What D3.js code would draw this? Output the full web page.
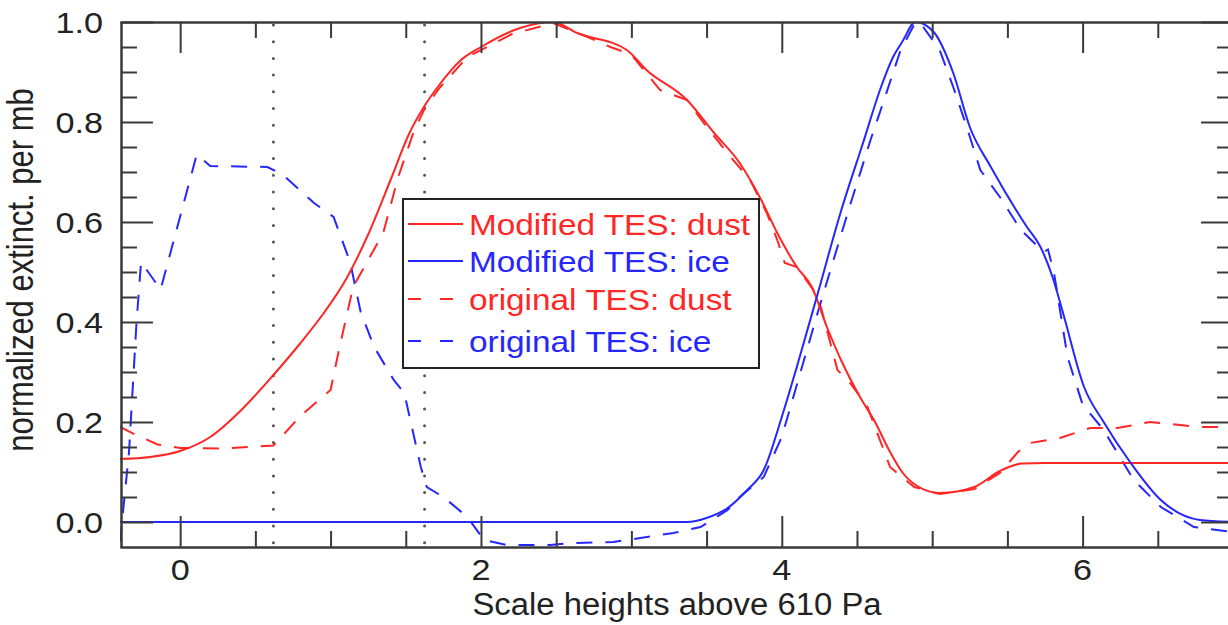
<!DOCTYPE html>
<html>
<head>
<meta charset="utf-8">
<script src="https://cdn.jsdelivr.net/npm/d3@7"></script>
<style>
  html, body { margin: 0; padding: 0; background: #fff; }
  svg { display: block; }
  text { font-family: "Liberation Sans", Arial, Helvetica, sans-serif; }
</style>
</head>
<body>
<svg id="chart" width="1228" height="625"></svg>
<script>
// ---------------- data ----------------
const xDomain = [-0.4, 7.0];
const yDomain = [-0.05, 1.0];
const xMajorTicks = [0, 2, 4, 6];
const xTickLabels = ["0", "2", "4", "6"];
const yMajorTicks = [0, 0.2, 0.4, 0.6, 0.8, 1.0];
const yTickLabels = ["0.0", "0.2", "0.4", "0.6", "0.8", "1.0"];
const dottedX = [0.62, 1.625];
const xTitle = "Scale heights above 610 Pa";
const yTitle = "normalized extinct. per mb";
const legendLabels = ["Modified TES: dust", "Modified TES: ice", "original TES: dust", "original TES: ice"];

const modDust = [[-0.4,0.126],[-0.2,0.13],[0,0.142],[0.2,0.17],[0.4,0.222],[0.62,0.294],[0.8,0.358],[0.95,0.416],[1.1,0.484],[1.25,0.575],[1.4,0.685],[1.52,0.775],[1.62,0.83],[1.73,0.877],[1.86,0.922],[2.0,0.95],[2.26,0.988],[2.48,1.0],[2.64,0.978],[2.97,0.944],[3.1,0.904],[3.37,0.844],[3.55,0.778],[3.72,0.718],[3.86,0.646],[3.97,0.578],[4.1,0.51],[4.2,0.47],[4.3,0.39],[4.4,0.32],[4.52,0.25],[4.62,0.2],[4.72,0.14],[4.8,0.1],[4.9,0.072],[5.05,0.058],[5.28,0.07],[5.45,0.102],[5.6,0.117],[5.75,0.118],[7.0,0.118]];
const modIce = [[-0.4,0],[3.37,0],[3.5,0.008],[3.64,0.028],[3.77,0.064],[3.88,0.104],[4.0,0.21],[4.1,0.31],[4.24,0.458],[4.39,0.618],[4.54,0.758],[4.66,0.87],[4.74,0.93],[4.8,0.96],[4.89,1.0],[5.01,0.98],[5.14,0.898],[5.25,0.79],[5.39,0.71],[5.63,0.59],[5.72,0.55],[5.8,0.49],[5.87,0.418],[6.01,0.27],[6.14,0.2],[6.32,0.118],[6.52,0.044],[6.78,0.004],[7.0,0]];
const origDust = [[-0.4,0.19],[-0.3,0.175],[-0.15,0.155],[0,0.148],[0.3,0.147],[0.62,0.153],[0.8,0.212],[1.0,0.264],[1.06,0.35],[1.15,0.47],[1.35,0.578],[1.45,0.69],[1.55,0.778],[1.63,0.83],[1.73,0.87],[1.91,0.93],[2.2,0.975],[2.48,0.998],[2.71,0.97],[2.86,0.95],[3.0,0.935],[3.19,0.864],[3.37,0.844],[3.5,0.79],[3.66,0.73],[3.79,0.684],[3.9,0.618],[3.97,0.564],[4.02,0.518],[4.1,0.51],[4.21,0.464],[4.26,0.43],[4.37,0.304],[4.45,0.28],[4.57,0.23],[4.72,0.11],[4.88,0.07],[5.05,0.056],[5.28,0.066],[5.45,0.098],[5.57,0.14],[5.65,0.158],[5.85,0.168],[6.05,0.188],[6.23,0.188],[6.45,0.2],[6.78,0.19],[7.0,0.19]];
const origIce = [[-0.4,-0.04],[-0.34,0.14],[-0.29,0.4],[-0.26,0.52],[-0.13,0.465],[0.11,0.735],[0.2,0.712],[0.58,0.71],[0.68,0.695],[0.89,0.638],[1.02,0.61],[1.13,0.52],[1.2,0.42],[1.29,0.35],[1.42,0.284],[1.49,0.258],[1.6,0.11],[1.64,0.07],[1.75,0.05],[1.91,0.01],[2.02,-0.036],[2.17,-0.046],[2.46,-0.046],[2.61,-0.042],[2.88,-0.04],[3.06,-0.032],[3.28,-0.022],[3.46,-0.01],[3.64,0.024],[3.72,0.05],[3.88,0.09],[4.0,0.17],[4.24,0.42],[4.44,0.62],[4.59,0.764],[4.68,0.844],[4.79,0.944],[4.89,1.0],[4.94,0.99],[5.05,0.944],[5.14,0.87],[5.23,0.79],[5.32,0.704],[5.45,0.65],[5.59,0.584],[5.74,0.54],[5.77,0.545],[5.81,0.498],[5.9,0.33],[6.0,0.235],[6.14,0.184],[6.34,0.084],[6.52,0.03],[6.74,-0.01],[7.0,-0.02]];

// ---------------- layout ----------------
(function () {
const RED = "#ff2626", BLUE = "#2626ff", AXIS = "#3a3a3a";
const pLeft = 120, pRight = 1233, pTop = 22, pBottom = 547;
const svg = d3.select("#chart");
const x = d3.scaleLinear().domain(xDomain).range([pLeft, pRight]);
const y = d3.scaleLinear().domain(yDomain).range([pBottom, pTop]);

svg.append("defs").append("clipPath").attr("id", "clip")
  .append("rect").attr("x", pLeft).attr("y", pTop).attr("width", pRight - pLeft).attr("height", pBottom - pTop);

// dotted verticals
svg.append("g").selectAll("line").data(dottedX).join("line")
  .attr("x1", d => x(d)).attr("x2", d => x(d))
  .attr("y1", pTop + 3).attr("y2", pBottom)
  .attr("stroke", "#555").attr("stroke-width", 3)
  .attr("stroke-linecap", "round").attr("stroke-dasharray", "0,16.7");

// series
const lineSmooth = d3.line().x(d => x(d[0])).y(d => y(d[1])).curve(d3.curveMonotoneX);
const lineLin = d3.line().x(d => x(d[0])).y(d => y(d[1]));
const plot = svg.append("g").attr("clip-path", "url(#clip)");
const series = [
  { data: origDust, color: RED, dash: "16,13", gen: lineLin },
  { data: origIce, color: BLUE, dash: "16,13", gen: lineLin },
  { data: modDust, color: RED, dash: null, gen: lineSmooth },
  { data: modIce, color: BLUE, dash: null, gen: lineSmooth }
];
series.forEach(s => {
  plot.append("path").attr("d", s.gen(s.data)).attr("fill", "none")
    .attr("stroke", s.color).attr("stroke-width", 2)
    .attr("stroke-dasharray", s.dash);
});

// axes (ticks inward)
const xMinor = d3.range(0, 7.01, 0.5).filter(v => v % 2 !== 0);
const yMinor = d3.range(0, 21).map(i => +(i * 0.05).toFixed(2)).filter(v => Math.round(v * 100) % 20 !== 0);
function axisGroup(axis, tx, ty) {
  const g = svg.append("g").attr("transform", `translate(${tx},${ty})`).call(axis);
  g.selectAll("line").attr("stroke", AXIS).attr("stroke-width", 2);
  g.selectAll("path").attr("stroke", AXIS).attr("stroke-width", 2);
  g.selectAll("text").remove();
  return g;
}
axisGroup(d3.axisBottom(x).tickValues(xMajorTicks).tickSize(-31).tickSizeOuter(0).tickFormat(""), 0, pBottom);
axisGroup(d3.axisBottom(x).tickValues(xMinor).tickSize(-16).tickSizeOuter(0).tickFormat(""), 0, pBottom);
axisGroup(d3.axisTop(x).tickValues(xMajorTicks).tickSize(-31).tickSizeOuter(0).tickFormat(""), 0, pTop);
axisGroup(d3.axisTop(x).tickValues(xMinor).tickSize(-16).tickSizeOuter(0).tickFormat(""), 0, pTop);
axisGroup(d3.axisLeft(y).tickValues(yMajorTicks).tickSize(-32).tickSizeOuter(0).tickFormat(""), pLeft + 1, 0);
axisGroup(d3.axisLeft(y).tickValues(yMinor).tickSize(-16).tickSizeOuter(0).tickFormat(""), pLeft + 1, 0);
axisGroup(d3.axisRight(y).tickValues(yMajorTicks).tickSize(-32).tickSizeOuter(0).tickFormat(""), pRight, 0);
axisGroup(d3.axisRight(y).tickValues(yMinor).tickSize(-16).tickSizeOuter(0).tickFormat(""), pRight, 0);

// tick labels
svg.append("g").selectAll("text").data(xMajorTicks).join("text")
  .attr("transform", d => `translate(${x(d)},580) scale(1.18,1)`)
  .attr("text-anchor", "middle").attr("font-size", 29).attr("fill", "#222")
  .text((d, i) => xTickLabels[i]);
svg.append("g").selectAll("text").data(yMajorTicks).join("text")
  .attr("transform", d => `translate(103,${y(d) + 10.5}) scale(1.18,1)`)
  .attr("text-anchor", "end").attr("font-size", 29).attr("fill", "#222")
  .text((d, i) => yTickLabels[i]);

// titles
svg.append("text").attr("transform", "translate(677,615) scale(1.06,1)")
  .attr("text-anchor", "middle").attr("font-size", 31).attr("fill", "#222").text(xTitle);
svg.append("text").attr("transform", "translate(33,270) scale(1.2,1) rotate(-90)")
  .attr("text-anchor", "middle").attr("font-size", 31).attr("fill", "#222").text(yTitle);

// legend
const lg = svg.append("g");
lg.append("rect").attr("x", 403).attr("y", 199).attr("width", 356).attr("height", 169)
  .attr("fill", "#fff").attr("stroke", "#222").attr("stroke-width", 2);
const legendItems = [
  { color: RED, dash: null }, { color: BLUE, dash: null },
  { color: RED, dash: "13,19" }, { color: BLUE, dash: "13,19" }
];
const legendBase = [235, 272, 310, 352];
legendItems.forEach((it, i) => {
  const b = legendBase[i];
  lg.append("line").attr("x1", 408).attr("x2", 463).attr("y1", b - 11).attr("y2", b - 11)
    .attr("stroke", it.color).attr("stroke-width", 2).attr("stroke-dasharray", it.dash);
  lg.append("text").attr("transform", `translate(469,${b}) scale(1.15,1)`)
    .attr("font-size", 29).attr("fill", it.color).text(legendLabels[i]);
});
})();
</script>
</body>
</html>
